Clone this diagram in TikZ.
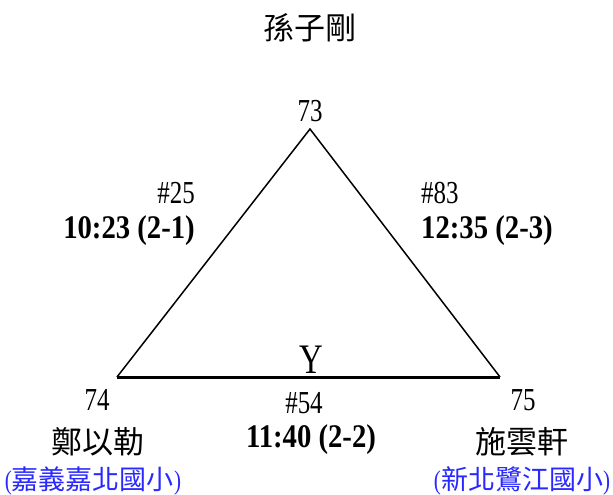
\documentclass[tikz,border=0pt]{standalone}
\usepackage{fontspec}
\setmainfont{Liberation Serif}[FakeStretch=0.78]
\newfontfamily\boldf{Liberation Serif}[FakeStretch=0.87]
\newfontfamily\cjk{Noto Sans CJK TC}
\definecolor{schoolblue}{RGB}{40,40,255}
\begin{document}
\begin{tikzpicture}[x=1pt,y=-1pt,
  lbl/.style={inner sep=0pt, anchor=base, font=\fontsize{32}{33}\selectfont},
  boldlbl/.style={inner sep=0pt, anchor=base, font=\fontsize{33}{34}\selectfont\boldf\bfseries},
  namelbl/.style={inner sep=0pt, font=\fontsize{31}{32}\selectfont\cjk},
  schoollbl/.style={inner sep=0pt, text=schoolblue, font=\fontsize{27}{28}\selectfont},
  edge/.style={line width=1.5pt},
  baseedge/.style={line width=3pt}]
\useasboundingbox (0,0) rectangle (613,495);
% vertices
\coordinate (A) at (310,129);
\coordinate (B) at (117,377);
\coordinate (C) at (500,377);
\draw[edge, line join=miter] (B) -- (A) -- (C);
\draw[baseedge] (B) -- (C);
% top player
\node[namelbl] (top) at (310,28) {孫子剛};
\node[lbl] (n73) at (310,121) {73};
% left player
\node[lbl] (n74) at (97,410) {74};
\node[namelbl] (left) at (98,442) {鄭以勒};
\node[schoollbl] (lefts) at (93,481) {(\cjk 嘉義嘉北國小\rmfamily)};
% right player
\node[lbl] (n75) at (523,410) {75};
\node[namelbl] (right) at (522,442) {施雲軒};
\node[schoollbl] (rights) at (522,481) {(\cjk 新北鷺江國小\rmfamily)};
% base label
\node[inner sep=0pt, anchor=base, font=\fontsize{42}{43}\selectfont] (Y) at (311,373) {Y};
% matches
\node[lbl, anchor=base east] (m25) at (195,203) {\#25};
\node[boldlbl, anchor=base east] (t25) at (195,238) {10:23 (2-1)};
\node[lbl, anchor=base west] (m83) at (421,203) {\#83};
\node[boldlbl, anchor=base west] (t83) at (421,238) {12:35 (2-3)};
\node[lbl] (m54) at (304,413) {\#54};
\node[boldlbl] (t54) at (311,447) {11:40 (2-2)};
\end{tikzpicture}
\end{document}
